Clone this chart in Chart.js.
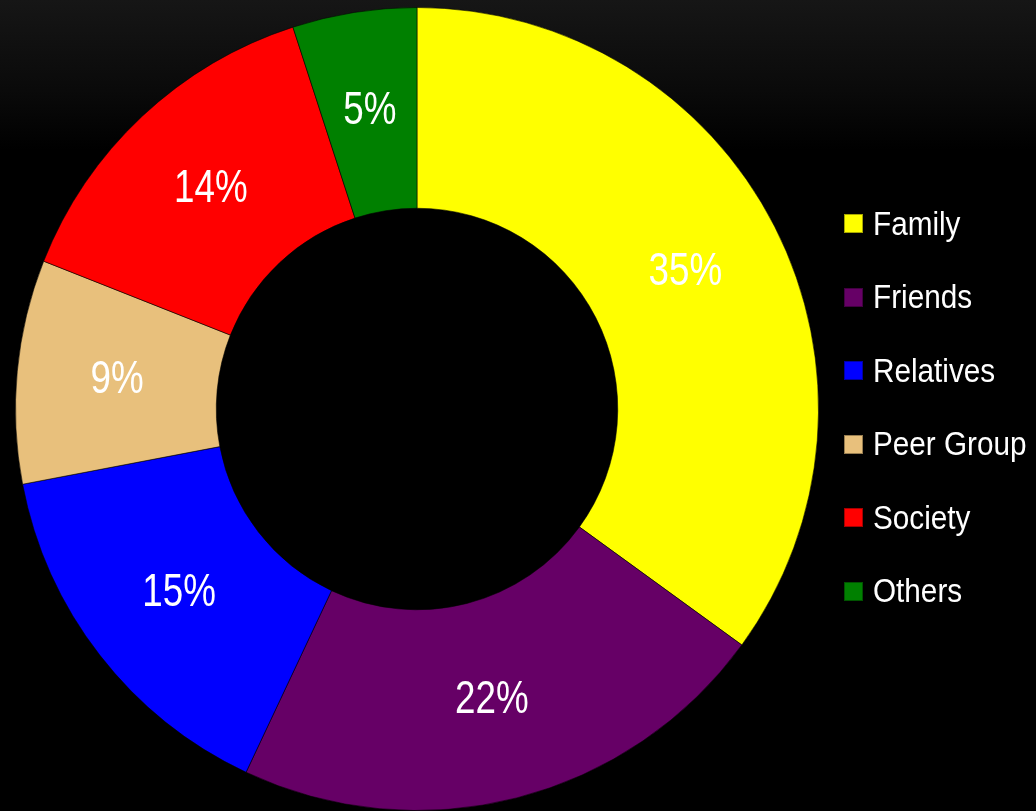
<!DOCTYPE html>
<html lang="en">
<head>
    <meta charset="UTF-8">
    <title>Influence</title>
    <script src="https://cdn.jsdelivr.net/npm/chart.js"></script>
    <style>
        html, body {
            margin: 0;
            padding: 0;
            overflow: hidden;
            background: #000;
        }
        .wrap {
            position: relative;
            width: 1036px;
            height: 811px;
            background: linear-gradient(#161616 0px, #0a0a0a 90px, #000 150px);
            font-family: 'Liberation Sans', Arial, sans-serif;
        }
        canvas {
            position: absolute;
            left: 0;
            top: 0;
        }
        #legend {
            position: absolute;
            left: 844px;
            top: 187px;
            margin: 0;
            padding: 0;
            list-style: none;
        }
        #legend li {
            display: flex;
            align-items: center;
            height: 73.5px;
            color: #fff;
            font-size: 33px;
            white-space: nowrap;
        }
        #legend .box {
            width: 17px;
            height: 17px;
            margin-right: 10px;
            border: 1px solid rgba(0, 0, 0, 0.35);
            box-sizing: content-box;
        }
        #legend .txt {
            display: inline-block;
            transform: scaleX(0.9);
            transform-origin: left center;
        }
    </style>
</head>
<body>
    <div class="wrap">
        <canvas id="grafica" width="1036" height="811"></canvas>
        <ul id="legend"></ul>
    </div>

    <script>
        // datos
        const categorias = ['Family', 'Friends', 'Relatives', 'Peer Group', 'Society', 'Others'];
        const valores = [35, 22, 15, 9, 14, 5];
        const etiquetas = ['35%', '22%', '15%', '9%', '14%', '5%'];
        const colores = ['#ffff00', '#660066', '#0000ff', '#e8c07c', '#ff0000', '#008000'];

        // leyenda en html
        const leyenda = document.getElementById('legend');
        categorias.forEach((cat, i) => {
            const li = document.createElement('li');
            li.innerHTML = `<span class="box" style="background:${colores[i]}"></span><span class="txt">${cat}</span>`;
            leyenda.appendChild(li);
        });

        // porcentajes dentro de cada sector (letra estrecha)
        const etiquetasPlugin = {
            id: 'etiquetas',
            afterDatasetsDraw(chart) {
                const ctx = chart.ctx;
                const meta = chart.getDatasetMeta(0);
                meta.data.forEach((arc, i) => {
                    const pos = arc.tooltipPosition();
                    ctx.save();
                    ctx.translate(pos.x, pos.y);
                    ctx.scale(0.8, 1);
                    ctx.fillStyle = '#ffffff';
                    ctx.font = "46px 'Liberation Sans', Arial, sans-serif";
                    ctx.textAlign = 'center';
                    ctx.textBaseline = 'middle';
                    ctx.fillText(etiquetas[i], 0, 0);
                    ctx.restore();
                });
            }
        };

        const ctx = document.getElementById('grafica').getContext('2d');
        new Chart(ctx, {
            type: 'doughnut',
            data: {
                labels: categorias,
                datasets: [{
                    data: valores,
                    backgroundColor: colores,
                    borderColor: 'rgba(0, 0, 0, 0.55)',
                    borderWidth: 1
                }]
            },
            options: {
                responsive: false,
                animation: false,
                cutout: '50%',
                layout: {
                    padding: { left: 15, right: 217, top: 7, bottom: 0 }
                },
                plugins: {
                    legend: { display: false },
                    tooltip: { enabled: false }
                }
            },
            plugins: [etiquetasPlugin]
        });
    </script>
</body>
</html>
